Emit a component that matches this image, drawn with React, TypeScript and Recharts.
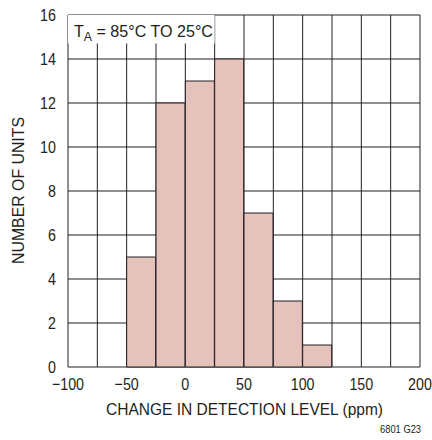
import React from "react";
import { BarChart, Bar, XAxis, YAxis, CartesianGrid, ReferenceArea } from "recharts";

const binStarts = [-100, -75, -50, -25, 0, 25, 50, 75, 100, 125, 150, 175];
const units = [0, 0, 5, 12, 13, 14, 7, 3, 1, 0, 0, 0];
const xTicks = [-100, -75, -50, -25, 0, 25, 50, 75, 100, 125, 150, 175, 200];
const yTicks = [0, 2, 4, 6, 8, 10, 12, 14, 16];

const data = binStarts.map((b, i) => ({ bin: b, units: units[i] }));

const FONT = "'Liberation Sans', Arial, sans-serif";
const INK = "#231f20";
const NARROW = 0.84;

const fmtX = (v: number) => (v % 50 === 0 ? String(v).replace("-", "\u2212") : "");

// squeeze text horizontally around its anchor, the source uses a condensed face
const squeeze = (x: number) => `translate(${x} 0) scale(${NARROW} 1) translate(${-x} 0)`;

const XTick = (props: any) => {
	const { x, y, payload } = props;
	const t = fmtX(payload.value);
	if (!t) return null;
	return (
		<text x={x} y={y} dy="0.71em" textAnchor="middle" fontSize={17} fill={INK} fontFamily={FONT} transform={squeeze(x)}>
			{t}
		</text>
	);
};

const YTick = (props: any) => {
	const { x, y, payload } = props;
	return (
		<text x={x} y={y} dy="0.36em" textAnchor="end" fontSize={17} fill={INK} fontFamily={FONT} transform={squeeze(x)}>
			{payload.value}
		</text>
	);
};

const TempLabel = (props: any) => {
	const { viewBox } = props;
	return (
		<text
			x={viewBox.x + 6}
			y={viewBox.y + 22}
			fontSize={17}
			fill={INK}
			fontFamily={FONT}
			textLength={139}
			lengthAdjust="spacingAndGlyphs">
			T
			<tspan fontSize={13} dy={4}>A</tspan>
			<tspan dy={-4}> = 85°C TO 25°C</tspan>
		</text>
	);
};

const XTitle = (props: any) => {
	const { viewBox } = props;
	return (
		<text
			x={viewBox.x + viewBox.width / 2 - 138}
			y={415}
			fontSize={16}
			fill={INK}
			fontFamily={FONT}
			textLength={277}
			lengthAdjust="spacingAndGlyphs">
			CHANGE IN DETECTION LEVEL (ppm)
		</text>
	);
};

const YTitle = (props: any) => {
	const { viewBox } = props;
	const cy = viewBox.y + viewBox.height / 2;
	return (
		<text
			x={0}
			y={0}
			fontSize={16}
			fill={INK}
			fontFamily={FONT}
			textLength={147}
			lengthAdjust="spacingAndGlyphs"
			transform={`translate(24 ${cy + 73}) rotate(-90)`}>
			NUMBER OF UNITS
		</text>
	);
};

const App = () => {
	return (
		<div style={{ position: "absolute", left: 0, top: 0, width: 432, height: 440, background: "#fff", fontFamily: FONT }}>
			<BarChart
				width={432}
				height={440}
				data={data}
				margin={{ top: 15, right: 12, bottom: 43, left: 8 }}
				barCategoryGap={0}
				barGap={0}>
				<CartesianGrid stroke={INK} strokeWidth={1} xAxisId={0} yAxisId={0} />
				<XAxis xAxisId="bins" dataKey="bin" type="category" hide />
				<XAxis
					xAxisId={0}
					type="number"
					dataKey="bin"
					domain={[-100, 200]}
					ticks={xTicks}
					interval={0}
					allowDataOverflow
					tickLine={false}
					axisLine={false}
					tickSize={0}
					tickMargin={11}
					tick={<XTick />}
					label={<XTitle />}
				/>
				<YAxis
					yAxisId={0}
					width={60}
					domain={[0, 16]}
					ticks={yTicks}
					interval={0}
					tickLine={false}
					axisLine={false}
					tickSize={0}
					tickMargin={12}
					tick={<YTick />}
					label={<YTitle />}
				/>
				<ReferenceArea
					xAxisId={0}
					yAxisId={0}
					x1={-100}
					x2={25}
					y1={14.7}
					y2={16}
					fill="#fff"
					fillOpacity={1}
					stroke="none"
					label={<TempLabel />}
				/>
				<Bar
					xAxisId="bins"
					yAxisId={0}
					dataKey="units"
					fill="#e6c2bd"
					stroke={INK}
					strokeWidth={1}
					isAnimationActive={false}
				/>
			</BarChart>
			<div
				style={{
					position: "absolute",
					left: 380,
					top: 423,
					fontSize: 11,
					color: INK,
					transform: "scaleX(0.85)",
					transformOrigin: "left top",
				}}>
				6801 G23
			</div>
		</div>
	);
};

export default App;
